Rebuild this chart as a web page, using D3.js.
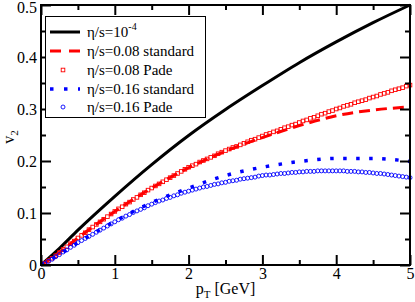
<html>
<head>
<script src="https://d3js.org/d3.v7.min.js"></script>
<style>
body { margin: 0; background: #fff; }
text { font-family: "Liberation Serif", "DejaVu Serif", serif; }
</style>
</head>
<body>
<svg id="chart" width="415" height="302"></svg>
<script>
// knots for the smooth lines (pT in GeV)
var pTKnots = [0, 0.25, 0.5, 1, 1.5, 2, 2.5, 3, 3.5, 4, 4.5, 5];
var v2Ideal = [0, 0.032, 0.067, 0.132, 0.193, 0.249, 0.299, 0.345, 0.389, 0.429, 0.466, 0.5];
var v2Std08 = [0, 0.024, 0.052, 0.103, 0.148, 0.187, 0.219, 0.245, 0.268, 0.287, 0.298, 0.304];
var v2Std16 = [0, 0.02, 0.043, 0.084, 0.120, 0.148, 0.172, 0.188, 0.199, 0.205, 0.205, 0.199];

// Pade points, one every 0.05 GeV from 0.05 to 5
var pTPade = d3.range(1, 101).map(function (i) { return i * 0.05; });
var v2Pade08 = [
  0.003, 0.008, 0.013, 0.018, 0.024, 0.030, 0.035, 0.041, 0.046, 0.052,
  0.057, 0.062, 0.068, 0.073, 0.078, 0.083, 0.088, 0.093, 0.098, 0.103,
  0.108, 0.112, 0.117, 0.121, 0.126, 0.130, 0.135, 0.139, 0.144, 0.148,
  0.152, 0.156, 0.160, 0.164, 0.168, 0.172, 0.176, 0.180, 0.184, 0.188,
  0.191, 0.194, 0.198, 0.201, 0.204, 0.207, 0.210, 0.214, 0.217, 0.220,
  0.223, 0.226, 0.228, 0.231, 0.234, 0.237, 0.240, 0.242, 0.245, 0.248,
  0.251, 0.253, 0.256, 0.258, 0.261, 0.264, 0.266, 0.269, 0.271, 0.274,
  0.277, 0.279, 0.282, 0.284, 0.287, 0.290, 0.292, 0.295, 0.297, 0.300,
  0.302, 0.305, 0.307, 0.309, 0.312, 0.314, 0.316, 0.318, 0.321, 0.323,
  0.325, 0.328, 0.330, 0.332, 0.335, 0.337, 0.339, 0.341, 0.344, 0.346];
var v2Pade16 = [
  0.003, 0.007, 0.011, 0.016, 0.020, 0.025, 0.029, 0.034, 0.038, 0.043,
  0.047, 0.051, 0.055, 0.059, 0.063, 0.067, 0.071, 0.075, 0.079, 0.083,
  0.087, 0.090, 0.094, 0.097, 0.101, 0.104, 0.107, 0.110, 0.114, 0.117,
  0.120, 0.123, 0.125, 0.128, 0.130, 0.133, 0.135, 0.138, 0.140, 0.142,
  0.144, 0.146, 0.148, 0.150, 0.151, 0.153, 0.155, 0.156, 0.158, 0.159,
  0.161, 0.162, 0.163, 0.165, 0.166, 0.167, 0.168, 0.169, 0.171, 0.172,
  0.173, 0.173, 0.174, 0.175, 0.176, 0.176, 0.177, 0.178, 0.178, 0.179,
  0.179, 0.180, 0.180, 0.180, 0.181, 0.181, 0.181, 0.181, 0.181, 0.181,
  0.181, 0.181, 0.180, 0.180, 0.180, 0.179, 0.179, 0.178, 0.178, 0.177,
  0.176, 0.176, 0.175, 0.174, 0.173, 0.172, 0.171, 0.170, 0.169, 0.168];

var xTicks = [0, 1, 2, 3, 4, 5];
var yTicks = [0, 0.1, 0.2, 0.3, 0.4, 0.5];

var plotL = 41, plotR = 410, plotT = 5, plotB = 265;
var x = d3.scaleLinear().domain([0, 5]).range([plotL, plotR]);
var y = d3.scaleLinear().domain([0, 0.5]).range([plotB, plotT]);
var svg = d3.select("#chart");

function knots(vals) { return pTKnots.map(function (p, i) { return [p, vals[i]]; }); }
var line = d3.line().x(function (d) { return x(d[0]); }).y(function (d) { return y(d[1]); })
  .curve(d3.curveMonotoneX);

var plot = svg.append("g");
plot.append("path").datum(knots(v2Ideal)).attr("d", line)
  .attr("fill", "none").attr("stroke", "#000").attr("stroke-width", 3);
plot.append("path").datum(knots(v2Std08)).attr("d", line)
  .attr("fill", "none").attr("stroke", "#ff0000").attr("stroke-width", 3)
  .attr("stroke-dasharray", "11,6");
plot.selectAll("rect.p08").data(pTPade).enter().append("rect").attr("class", "p08")
  .attr("x", function (d) { return x(d) - 1.8; })
  .attr("y", function (d, i) { return y(v2Pade08[i]) - 1.8; })
  .attr("width", 3.6).attr("height", 3.6)
  .attr("fill", "none").attr("stroke", "#ff0000").attr("stroke-width", 0.9);
plot.append("path").datum(knots(v2Std16)).attr("d", line)
  .attr("fill", "none").attr("stroke", "#0000ff").attr("stroke-width", 3.5)
  .attr("stroke-dasharray", "3.5,9.5");
plot.selectAll("circle.p16").data(pTPade).enter().append("circle").attr("class", "p16")
  .attr("cx", function (d) { return x(d); })
  .attr("cy", function (d, i) { return y(v2Pade16[i]); })
  .attr("r", 2)
  .attr("fill", "none").attr("stroke", "#0000ff").attr("stroke-width", 0.9);

// frame with inward ticks on all sides
function axisG(axis, tx, ty) {
  var g = svg.append("g").attr("transform", "translate(" + tx + "," + ty + ")").call(axis);
  g.select(".domain").remove();
  g.selectAll("line").attr("stroke", "#000").attr("stroke-width", 2);
  return g;
}
var xMinor = [0.5, 1.5, 2.5, 3.5, 4.5], yMinor = [0.05, 0.15, 0.25, 0.35, 0.45];
var gx = axisG(d3.axisBottom(x).tickValues(xTicks).tickSize(-10).tickPadding(3).tickFormat(d3.format("d")), 0, plotB);
gx.selectAll("text").attr("font-size", 16).attr("fill", "#000");
axisG(d3.axisBottom(x).tickValues(xMinor).tickSize(-5).tickFormat(""), 0, plotB);
axisG(d3.axisTop(x).tickValues(xTicks).tickSize(-10).tickFormat(""), 0, plotT);
axisG(d3.axisTop(x).tickValues(xMinor).tickSize(-5).tickFormat(""), 0, plotT);
var gy = axisG(d3.axisLeft(y).tickValues(yTicks).tickSize(-10).tickPadding(4)
  .tickFormat(function (d) { return d === 0 ? "0" : d3.format(".1f")(d); }), plotL, 0);
gy.selectAll("text").attr("font-size", 16).attr("fill", "#000");
gy.selectAll(".tick").filter(function (d) { return d === 0.5; }).select("text").attr("dy", "0.45em");
axisG(d3.axisLeft(y).tickValues(yMinor).tickSize(-5).tickFormat(""), plotL, 0);
axisG(d3.axisRight(y).tickValues(yTicks).tickSize(-10).tickFormat(""), plotR, 0);
axisG(d3.axisRight(y).tickValues(yMinor).tickSize(-5).tickFormat(""), plotR, 0);
svg.append("rect").attr("x", plotL).attr("y", plotT).attr("width", plotR - plotL).attr("height", plotB - plotT)
  .attr("fill", "none").attr("stroke", "#000").attr("stroke-width", 2);

// axis titles
var xt = svg.append("text").attr("x", (plotL + plotR) / 2).attr("y", 294)
  .attr("text-anchor", "middle").attr("font-size", 16);
xt.append("tspan").text("p");
xt.append("tspan").attr("font-size", 11).attr("dy", 4).text("T");
xt.append("tspan").attr("dy", -4).text(" [GeV]");
var yt = svg.append("text").attr("transform", "translate(14,137) rotate(-90)")
  .attr("text-anchor", "middle").attr("font-size", 16);
yt.append("tspan").text("v");
yt.append("tspan").attr("font-size", 11).attr("dy", 4).text("2");

// legend
var legend = svg.append("g");
legend.append("rect").attr("x", 45.5).attr("y", 16.5).attr("width", 160).attr("height", 101)
  .attr("fill", "#fff").attr("stroke", "#000").attr("stroke-width", 1);
var rows = [32, 51, 70, 89, 107];
var lx0 = 50, lx1 = 80, labelX = 87;
legend.append("line").attr("x1", lx0).attr("x2", lx1).attr("y1", rows[0]).attr("y2", rows[0])
  .attr("stroke", "#000").attr("stroke-width", 3);
legend.append("line").attr("x1", lx0).attr("x2", lx1 + 1).attr("y1", rows[1]).attr("y2", rows[1])
  .attr("stroke", "#ff0000").attr("stroke-width", 3).attr("stroke-dasharray", "11,8");
legend.append("rect").attr("x", 63 - 1.8).attr("y", rows[2] - 1.8).attr("width", 3.6).attr("height", 3.6)
  .attr("fill", "none").attr("stroke", "#ff0000").attr("stroke-width", 0.9);
legend.append("line").attr("x1", lx0).attr("x2", lx1).attr("y1", rows[3]).attr("y2", rows[3])
  .attr("stroke", "#0000ff").attr("stroke-width", 3.5).attr("stroke-dasharray", "3.5,10.5");
legend.append("circle").attr("cx", 63).attr("cy", rows[4]).attr("r", 2)
  .attr("fill", "none").attr("stroke", "#0000ff").attr("stroke-width", 0.9);
var labels = ["η/s=10", "η/s=0.08 standard", "η/s=0.08 Pade", "η/s=0.16 standard", "η/s=0.16 Pade"];
labels.forEach(function (s, i) {
  var t = legend.append("text").attr("x", labelX).attr("y", rows[i] + 5).attr("font-size", 15).text(s);
  if (i === 0) t.append("tspan").attr("font-size", 10).attr("dy", -7).text("-4");
});
</script>
</body>
</html>
